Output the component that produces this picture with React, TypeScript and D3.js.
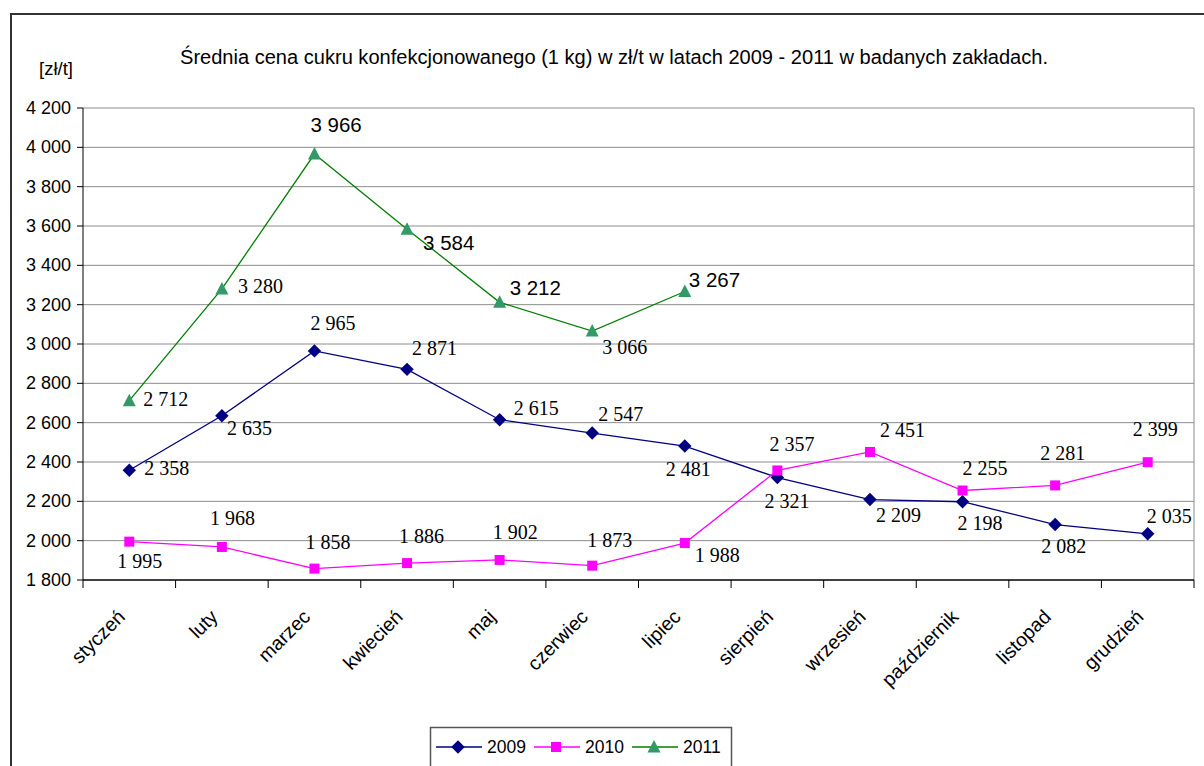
import { useEffect, useRef } from 'react';
import * as d3 from 'd3';

const months = [
  'styczeń', 'luty', 'marzec', 'kwiecień', 'maj', 'czerwiec',
  'lipiec', 'sierpień', 'wrzesień', 'październik', 'listopad', 'grudzień',
];
const values2009 = [2358, 2635, 2965, 2871, 2615, 2547, 2481, 2321, 2209, 2198, 2082, 2035];
const values2010 = [1995, 1968, 1858, 1886, 1902, 1873, 1988, 2357, 2451, 2255, 2281, 2399];
const values2011 = [2712, 3280, 3966, 3584, 3212, 3066, 3267];
const yTicks = [1800, 2000, 2200, 2400, 2600, 2800, 3000, 3200, 3400, 3600, 3800, 4000, 4200];
const seriesNames = ['2009', '2010', '2011'];

const title = 'Średnia cena cukru konfekcjonowanego (1 kg) w zł/t w latach 2009 - 2011  w badanych zakładach.';
const unitLabel = '[zł/t]';

// label placement relative to the marker (text start, baseline)
const offsets2009 = [[15, 5], [5, 19], [-4, -21], [5, -14], [14, -5], [6, -12], [-19, 30], [-13, 30], [6, 22], [-5, 28], [-14, 28], [-1, -11]];
const offsets2010 = [[-12, 26], [-12, -22], [-9, -20], [-8, -20], [-7, -21], [-5, -19], [10, 19], [-8, -19], [10, -15], [0, -16], [-15, -25], [-15, -26]];
const offsets2011 = [[14, 5], [16, 4], [-4, -22], [16, 21], [10, -7], [10, 23], [4, -4]];
const fonts2011 = ['serif', 'serif', 'sans', 'sans', 'sans', 'serif', 'sans'];

const SANS = "'Liberation Sans', Arial, sans-serif";
const SERIF = "'Liberation Serif', 'Times New Roman', serif";
const NARROW = "'Liberation Sans Narrow', 'Arial Narrow', 'Liberation Sans', sans-serif";

const colors = ['#000080', '#ff00ff', '#339966'];
const lineColors = ['#000080', '#ff00ff', '#008000'];

const plPl = d3.formatLocale({ decimal: ',', thousands: '\u2009', grouping: [3], currency: ['', ' zł'] });
const fmt = (v: number) => plPl.format(',')(v).replace('\u2009', ' ');

export default function App() {
  const svgRef = useRef<SVGSVGElement>(null);

  useEffect(() => {
    if (!svgRef.current) return;
    const width = 1204;
    const height = 766;
    const plot = { left: 83, right: 1194, top: 108, bottom: 580 };

    const svg = d3.select(svgRef.current);
    svg.selectAll('*').remove();
    svg.attr('width', width).attr('height', height);

    svg.append('rect').attr('width', width).attr('height', height).attr('fill', 'white');

    // outer chart frame
    svg.append('rect')
      .attr('x', 11).attr('y', 14)
      .attr('width', width).attr('height', height)
      .attr('fill', 'none').attr('stroke', '#333').attr('stroke-width', 2);

    const x = d3.scalePoint<string>().domain(months).range([plot.left, plot.right]).padding(0.5);
    const band = d3.scaleBand<string>().domain(months).range([plot.left, plot.right]);
    const y = d3.scaleLinear().domain([1800, 4200]).range([plot.bottom, plot.top]);

    // title
    svg.append('text')
      .attr('x', 180).attr('y', 64)
      .attr('font-family', NARROW).attr('font-size', 20)
      .attr('textLength', 868).attr('lengthAdjust', 'spacingAndGlyphs')
      .attr('fill', '#000')
      .text(title);

    svg.append('text')
      .attr('x', 39).attr('y', 75)
      .attr('font-family', SANS).attr('font-size', 18)
      .attr('textLength', 34).attr('lengthAdjust', 'spacingAndGlyphs')
      .text(unitLabel);

    // grid
    svg.append('g')
      .selectAll('line')
      .data(yTicks.slice(1))
      .join('line')
      .attr('x1', plot.left).attr('x2', plot.right)
      .attr('y1', (d) => y(d)).attr('y2', (d) => y(d))
      .attr('stroke', '#8c8c8c').attr('stroke-width', 1);

    // plot border right
    svg.append('line')
      .attr('x1', plot.right).attr('x2', plot.right)
      .attr('y1', plot.top).attr('y2', plot.bottom)
      .attr('stroke', '#8c8c8c');

    // y axis
    const yAxis = svg.append('g');
    yAxis.append('line')
      .attr('x1', plot.left).attr('x2', plot.left)
      .attr('y1', plot.top).attr('y2', plot.bottom)
      .attr('stroke', '#000');
    yAxis.selectAll('line.tick')
      .data(yTicks)
      .join('line')
      .attr('class', 'tick')
      .attr('x1', plot.left - 6).attr('x2', plot.left)
      .attr('y1', (d) => y(d)).attr('y2', (d) => y(d))
      .attr('stroke', '#000');
    yAxis.selectAll('text')
      .data(yTicks)
      .join('text')
      .attr('x', 71).attr('y', (d) => y(d) + 6)
      .attr('text-anchor', 'end')
      .attr('font-family', SANS).attr('font-size', 18)
      .text((d) => fmt(d));

    // x axis
    const xAxis = svg.append('g');
    xAxis.append('line')
      .attr('x1', plot.left).attr('x2', plot.right)
      .attr('y1', plot.bottom).attr('y2', plot.bottom)
      .attr('stroke', '#000').attr('stroke-width', 1.5);
    const bounds = months.map((m) => band(m) as number).concat([plot.right]);
    xAxis.selectAll('line.tick')
      .data(bounds)
      .join('line')
      .attr('class', 'tick')
      .attr('x1', (d) => d).attr('x2', (d) => d)
      .attr('y1', plot.bottom).attr('y2', plot.bottom + 8)
      .attr('stroke', '#000');
    xAxis.selectAll('text')
      .data(months)
      .join('text')
      .attr('transform', (d) => `translate(${(x(d) as number) - 3},${plot.bottom + 38}) rotate(-45)`)
      .attr('text-anchor', 'end')
      .attr('font-family', SANS).attr('font-size', 19.5)
      .text((d) => d);

    const seriesValues = [values2009, values2010, values2011];
    const seriesOffsets = [offsets2009, offsets2010, offsets2011];

    const line = d3.line<number>()
      .x((_, i) => x(months[i]) as number)
      .y((d) => y(d));

    const drawMarker = (g: d3.Selection<SVGGElement, unknown, null, undefined>, s: number, cx: number, cy: number) => {
      if (s === 0) {
        g.append('path')
          .attr('d', d3.symbol(d3.symbolDiamond2, 115)())
          .attr('transform', `translate(${cx},${cy})`)
          .attr('fill', colors[0]);
      } else if (s === 1) {
        g.append('rect')
          .attr('x', cx - 5).attr('y', cy - 5)
          .attr('width', 10).attr('height', 10)
          .attr('fill', colors[1]);
      } else {
        g.append('path')
          .attr('d', `M${cx},${cy - 7}L${cx + 6.5},${cy + 5.5}L${cx - 6.5},${cy + 5.5}Z`)
          .attr('fill', colors[2]);
      }
    };

    seriesValues.forEach((vals, s) => {
      const g = svg.append('g');
      g.append('path')
        .datum(vals)
        .attr('d', line)
        .attr('fill', 'none')
        .attr('stroke', lineColors[s])
        .attr('stroke-width', 1.3);
      vals.forEach((v, i) => drawMarker(g, s, x(months[i]) as number, y(v)));
    });

    // data labels
    seriesValues.forEach((vals, s) => {
      svg.append('g')
        .selectAll('text')
        .data(vals)
        .join('text')
        .attr('x', (_, i) => (x(months[i]) as number) + seriesOffsets[s][i][0])
        .attr('y', (d, i) => y(d) + seriesOffsets[s][i][1])
        .attr('font-family', (_, i) => (s === 2 && fonts2011[i] === 'sans' ? SANS : SERIF))
        .attr('font-size', (_, i) => (s === 2 && fonts2011[i] === 'sans' ? 20.5 : 20))
        .attr('fill', '#000')
        .text((d) => fmt(d));
    });

    // legend
    const legend = svg.append('g');
    legend.append('rect')
      .attr('x', 430.5).attr('y', 727.5)
      .attr('width', 301).attr('height', 60)
      .attr('fill', 'white').attr('stroke', '#555').attr('stroke-width', 1.5);
    const legendX = [436, 534, 632];
    seriesNames.forEach((name, s) => {
      const lx = legendX[s];
      legend.append('line')
        .attr('x1', lx).attr('x2', lx + 46)
        .attr('y1', 747).attr('y2', 747)
        .attr('stroke', lineColors[s]).attr('stroke-width', 1.5);
      drawMarker(legend as any, s, lx + 22, 747);
      legend.append('text')
        .attr('x', lx + 51).attr('y', 753)
        .attr('font-family', SANS).attr('font-size', 17.5)
        .text(name);
    });
  }, []);

  return (
    <svg
      ref={svgRef}
      style={{ position: 'absolute', left: 0, top: 0, display: 'block' }}
    />
  );
}
